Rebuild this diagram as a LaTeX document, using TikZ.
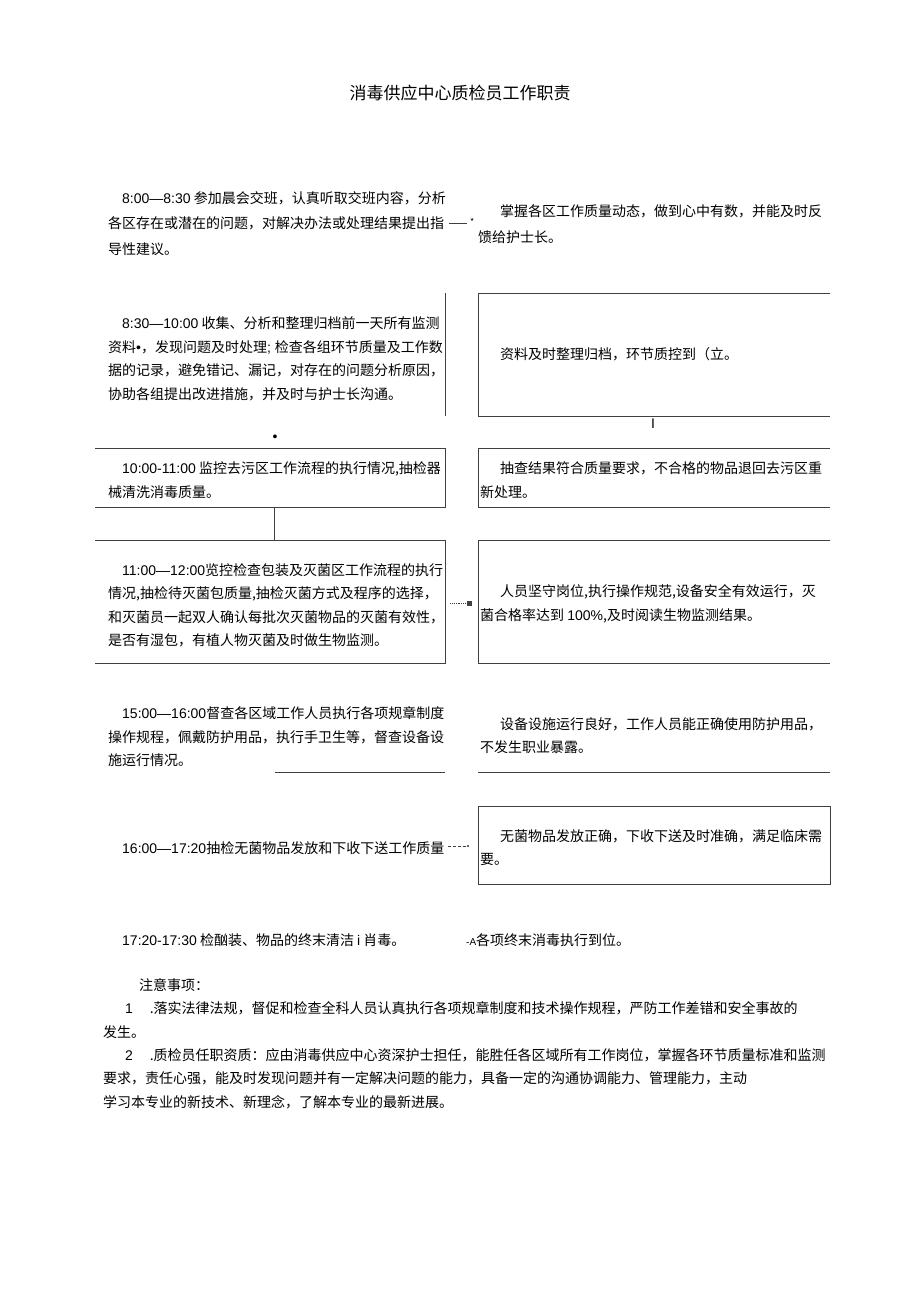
\documentclass[tikz,border=0pt]{standalone}
\usepackage{fontspec}
\setmainfont{Noto Sans CJK SC}
\newfontfamily\lat{Liberation Sans}
\usetikzlibrary{positioning,arrows.meta}
\tikzset{
  frame/.style={draw=black!75, line width=0.8pt},
  txt/.style={align=left, inner sep=0pt, text=black,
    font=\fontsize{14}{23.5}\selectfont},
  area/.style={minimum width=350pt, inner sep=0pt, anchor=north west},
  rarea/.style={minimum width=352pt, inner sep=0pt, anchor=north west}
}

\begin{document}
\begin{tikzpicture}[x=1pt,y=-1pt]
  \useasboundingbox (0,0) rectangle (920,1301);

  \node [font=\fontsize{17}{20}\selectfont, text=black] (title) at (460,93) {消毒供应中心质检员工作职责};

  % 8:00 -- 8:30
  \node [txt, anchor=west, font=\fontsize{14}{25.5}\selectfont] (t1l) at (108,223.5) {\hspace*{1em}{\lat 8:00—8:30} 参加晨会交班，认真听取交班内容，分析\\
  各区存在或潜在的问题，对解决办法或处理结果提出指\\
  导性建议。};
  \node [txt, anchor=west, font=\fontsize{14}{26}\selectfont] (t1r) at (478,224) {\hspace*{22pt}掌握各区工作质量动态，做到心中有数，并能及时反\\
  馈给护士长。};
  \draw [frame, shorten <=3pt, shorten >=11pt] (t1l.east) -- (t1r.west |- t1l.east)
    node [pos=0.74, anchor=west, inner sep=0pt, yshift=2pt, font=\small] {*};

  % 8:30 -- 10:00
  \node [area, minimum height=123pt] (b2l) at (95,293) {};
  \node [rarea, minimum height=123pt] (b2r) at (478,293) {};
  \draw [frame] (b2l.north east) -- (b2l.south east);
  \draw [frame] (b2r.north east) -- (b2r.north west) -- (b2r.south west) -- (b2r.south east);
  \node [txt, right=13pt of b2l.west, yshift=-4pt] (t2l) {\hspace*{1em}{\lat 8:30—10:00} 收集、分析和整理归档前一天所有监测\\
  资料{\lat •}，发现问题及时处理{\lat ; }检查各组环节质量及工作数\\
  据的记录，避免错记、漏记，对存在的问题分析原因，\\
  协助各组提出改进措施，并及时与护士长沟通。};
  \node [txt, right=22pt of b2r.west] (t2r) {资料及时整理归档，环节质控到（立。};
  \node [txt] (dot2) at (275,438) {\lat •};
  \node [txt] (bar2) at (653,424) {\lat I};

  % 10:00 -- 11:00
  \node [area, minimum height=59pt] (b3l) at (95,448) {};
  \node [rarea, minimum height=59pt] (b3r) at (478,448) {};
  \draw [frame] (b3l.north west) -- (b3l.north east) -- (b3l.south east) -- (b3l.south west);
  \draw [frame] (b3r.north east) -- (b3r.north west) -- (b3r.south west) -- (b3r.south east);
  \node [txt, right=13pt of b3l.west, yshift=-2.5pt] (t3l) {\hspace*{1em}{\lat 10:00-11:00} 监控去污区工作流程的执行情况,抽检器\\
  械清洗消毒质量。};
  \node [txt, right=2pt of b3r.west, yshift=-2.5pt] (t3r) {\hspace*{20pt}抽查结果符合质量要求，不合格的物品退回去污区重\\
  新处理。};

  % 11:00 -- 12:00
  \node [area, minimum height=123pt] (b4l) at (95,540) {};
  \node [rarea, minimum height=123pt] (b4r) at (478,540) {};
  \draw [frame] (b4l.north west) -- (b4l.north east) -- (b4l.south east) -- (b4l.south west);
  \draw [frame] (b4r.north east) -- (b4r.north west) -- (b4r.south west) -- (b4r.south east);
  \draw [frame] ([xshift=4pt]b3l.south) -- ([xshift=4pt]b4l.north);
  \node [txt, right=13pt of b4l.west, yshift=-3.5pt] (t4l) {\hspace*{1em}{\lat 11:00—12:00}览控检查包装及灭菌区工作流程的执行\\
  情况,抽检待灭菌包质量,抽检灭菌方式及程序的选择，\\
  和灭菌员一起双人确认每批次灭菌物品的灭菌有效性，\\
  是否有湿包，有植人物灭菌及时做生物监测。};
  \node [txt, right=2pt of b4r.west, yshift=-2pt] (t4r) {\hspace*{20pt}人员坚守岗位,执行操作规范,设备安全有效运行，灭\\
  菌合格率达到 {\lat 100\%},及时阅读生物监测结果。};
  \draw [frame, densely dotted, -{Square[length=5pt,width=5pt]}, shorten <=5pt, shorten >=6pt]
    ([yshift=-2pt]b4l.east) -- ([yshift=-2pt]b4r.west);

  % 15:00 -- 16:00
  \node [txt, anchor=west] (t5l) at (108,737) {\hspace*{1em}{\lat 15:00—16:00}督查各区域工作人员执行各项规章制度\\
  操作规程，佩戴防护用品，执行手卫生等，督查设备设\\
  施运行情况。};
  \node [txt, anchor=west] (t5r) at (480,735.5) {\hspace*{20pt}设备设施运行良好，工作人员能正确使用防护用品，\\
  不发生职业暴露。};
  \draw [frame] (275,772) -- (445,772);
  \draw [frame] (478,772) -- (830,772);

  % 16:00 -- 17:20
  \node [rarea, minimum height=78pt] (b6r) at (478,806) {};
  \draw [frame] (b6r.north west) rectangle (b6r.south east);
  \node [txt, anchor=west] (t6l) at (122,848) {{\lat 16:00—17:20}抽检无菌物品发放和下收下送工作质量};
  \node [txt, right=2pt of b6r.west, yshift=-2.5pt] (t6r) {\hspace*{20pt}无菌物品发放正确，下收下送及时准确，满足临床需\\
  要。};
  \draw [frame, densely dashed, -{Circle[length=2pt]}, shorten <=4pt, shorten >=9pt]
    ([yshift=2pt]t6l.east) -- ([yshift=2pt]t6l.east -| b6r.west);

  % 17:20 -- 17:30
  \node [txt, anchor=west] (t7l) at (122,940) {{\lat 17:20-17:30} 检酗装、物品的终末清洁 {\lat i} 肖毒。};
  \node [txt, anchor=west] (t7r) at (466,940) {{\lat\fontsize{10}{12}\selectfont -A}各项终末消毒执行到位。};

  % notes
  \node [txt, anchor=west, font=\fontsize{14}{23.4}\selectfont] (notes) at (103,1043.5) {\hspace*{36pt}注意事项：\\
  \hspace*{22pt}{\lat 1}\hspace{1.2em}.落实法律法规，督促和检查全科人员认真执行各项规章制度和技术操作规程，严防工作差错和安全事故的\\
  发生。\\
  \hspace*{22pt}{\lat 2}\hspace{1.2em}.质检员任职资质：应由消毒供应中心资深护士担任，能胜任各区域所有工作岗位，掌握各环节质量标准和监测\\
  要求，责任心强，能及时发现问题并有一定解决问题的能力，具备一定的沟通协调能力、管理能力，主动\\
  学习本专业的新技术、新理念，了解本专业的最新进展。};
\end{tikzpicture}
\end{document}
